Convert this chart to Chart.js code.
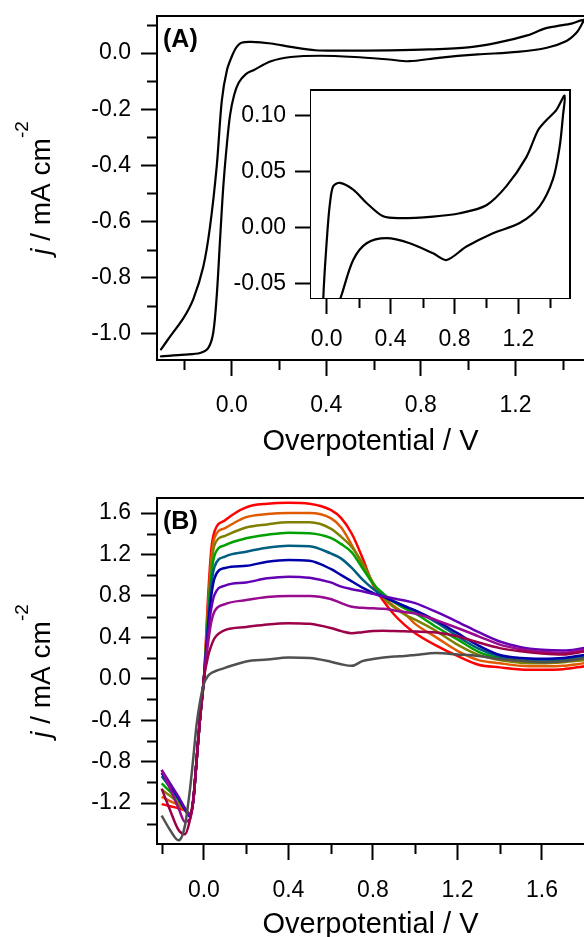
<!DOCTYPE html>
<html>
<head>
<meta charset="utf-8">
<title>Overpotential CV panels</title>
<script src="https://cdn.jsdelivr.net/npm/chart.js"></script>
<style>
    html, body { margin: 0; padding: 0; background: #fff; overflow: hidden; }
    body { width: 584px; height: 937px; position: relative; }
    canvas { position: absolute; }
    #chartA { left: 0; top: -14px; }
    #chartInset { left: 225px; top: 60px; }
    #chartB { left: 0; top: 470px; }
</style>
</head>
<body>
<canvas id="chartA" width="584" height="474"></canvas>
<canvas id="chartInset" width="355" height="290"></canvas>
<canvas id="chartB" width="584" height="473"></canvas>
<script>
// ---- panel A : cyclic voltammogram (path order) ----
const cvPotential = [-0.299, -0.261, -0.205, -0.162, -0.12, -0.092, -0.063, -0.042, -0.02, 0.005, 0.021, 0.041, 0.083,
    0.166, 0.25, 0.354, 0.458, 0.666, 0.833, 1.0, 1.125, 1.25, 1.323, 1.375, 1.437, 1.489,
    1.479, 1.458, 1.416, 1.333, 1.208, 1.041, 0.875, 0.75, 0.666, 0.52, 0.375, 0.25, 0.166, 0.094, 0.06, 0.03,
    0.01, -0.007, -0.021, -0.036, -0.049, -0.063, -0.078, -0.099, -0.134, -0.2, -0.299];
const cvCurrent = [-1.055, -1.01, -0.945, -0.875, -0.76, -0.62, -0.40, -0.17, -0.06, -0.003, 0.022, 0.037, 0.040,
    0.034, 0.022, 0.010, 0.0084, 0.0098, 0.0128, 0.020, 0.037, 0.063, 0.087, 0.096, 0.105, 0.118,
    0.100, 0.072, 0.043, 0.019, 0.004, -0.005, -0.017, -0.029, -0.023, -0.014, -0.0095, -0.014, -0.029, -0.060, -0.075, -0.105,
    -0.15, -0.221, -0.33, -0.48, -0.66, -0.86, -0.995, -1.05, -1.068, -1.074, -1.08];

// ---- panel B : linear sweeps ----
const sweepPotential = [-0.2, -0.16, -0.12, -0.09, -0.065, -0.05, -0.035, -0.02, 0.0, 0.02, 0.035, 0.05, 0.1, 0.2, 0.3, 0.4,
    0.5, 0.6, 0.65, 0.7, 0.75, 0.8, 0.85, 0.9, 0.95, 1.0, 1.1, 1.2, 1.3, 1.4, 1.5, 1.6, 1.7, 1.8];
const sweepGray = [-1.32, -1.46, -1.56, -1.42, -1.05, -0.76, -0.45, -0.24, -0.05, 0.03, 0.055, 0.07, 0.105, 0.167, 0.185, 0.205,
    0.2, 0.165, 0.14, 0.125, 0.17, 0.19, 0.205, 0.215, 0.22, 0.23, 0.248, 0.235, 0.22, 0.19, 0.175, 0.16, 0.17, 0.2];
const sweepCrimson = [-1.06, -1.27, -1.46, -1.50, -1.35, -1.15, -0.8, -0.42, 0.0, 0.22, 0.32, 0.39, 0.47, 0.50, 0.525, 0.537,
    0.53, 0.49, 0.46, 0.44, 0.45, 0.46, 0.463, 0.46, 0.458, 0.456, 0.447, 0.41, 0.35, 0.296, 0.265, 0.245, 0.235, 0.263];
const sweepMagenta = [-0.88, -1.06, -1.25, -1.38, -1.35, -1.17, -0.8, -0.42, 0.0, 0.35, 0.55, 0.65, 0.72, 0.76, 0.79, 0.80,
    0.80, 0.77, 0.73, 0.695, 0.685, 0.68, 0.675, 0.66, 0.645, 0.63, 0.565, 0.49, 0.41, 0.33, 0.285, 0.26, 0.25, 0.28];
const sweepViolet = [-0.88, -1.01, -1.14, -1.25, -1.32, -1.17, -0.8, -0.42, 0.0, 0.45, 0.68, 0.81, 0.9, 0.93, 0.97, 0.986,
    0.975, 0.93, 0.89, 0.865, 0.845, 0.82, 0.795, 0.775, 0.755, 0.73, 0.645, 0.55, 0.45, 0.36, 0.305, 0.28, 0.272, 0.296];
const sweepBlue = [-0.91, -1.03, -1.15, -1.26, -1.33, -1.17, -0.8, -0.42, 0.0, 0.5, 0.8, 0.97, 1.07, 1.09, 1.13, 1.147,
    1.14, 1.06, 1.0, 0.94, 0.88, 0.83, 0.79, 0.745, 0.70, 0.66, 0.56, 0.44, 0.32, 0.23, 0.2, 0.193, 0.2, 0.23];
const sweepTeal = [-0.94, -1.05, -1.16, -1.26, -1.32, -1.17, -0.8, -0.42, 0.0, 0.55, 0.9, 1.08, 1.18, 1.227, 1.265, 1.285,
    1.28, 1.21, 1.16, 1.07, 0.96, 0.87, 0.80, 0.75, 0.70, 0.655, 0.545, 0.41, 0.29, 0.215, 0.185, 0.18, 0.19, 0.22];
const sweepGreen = [-1.01, -1.09, -1.17, -1.25, -1.31, -1.17, -0.8, -0.42, 0.0, 0.6, 1.0, 1.19, 1.29, 1.356, 1.39, 1.41,
    1.405, 1.36, 1.30, 1.22, 1.07, 0.92, 0.82, 0.74, 0.68, 0.63, 0.50, 0.38, 0.26, 0.2, 0.175, 0.167, 0.175, 0.2];
const sweepOlive = [-1.07, -1.13, -1.2, -1.26, -1.31, -1.17, -0.8, -0.42, 0.0, 0.65, 1.08, 1.29, 1.38, 1.46, 1.49, 1.51,
    1.51, 1.45, 1.37, 1.27, 1.12, 0.93, 0.78, 0.69, 0.62, 0.57, 0.46, 0.33, 0.23, 0.18, 0.155, 0.15, 0.16, 0.18];
const sweepOrange = [-1.14, -1.18, -1.22, -1.27, -1.31, -1.17, -0.8, -0.42, 0.0, 0.7, 1.15, 1.36, 1.455, 1.56, 1.59, 1.60,
    1.6, 1.55, 1.46, 1.29, 1.1, 0.92, 0.79, 0.70, 0.63, 0.53, 0.40, 0.27, 0.18, 0.15, 0.125, 0.12, 0.125, 0.15];
const sweepRed = [-1.21, -1.23, -1.25, -1.27, -1.3, -1.17, -0.8, -0.42, 0.0, 0.8, 1.25, 1.42, 1.53, 1.655, 1.69, 1.70,
    1.69, 1.63, 1.55, 1.40, 1.17, 0.91, 0.75, 0.62, 0.52, 0.44, 0.32, 0.22, 0.135, 0.11, 0.09, 0.087, 0.093, 0.12];

const sweepSeries = [sweepGray, sweepCrimson, sweepMagenta, sweepViolet, sweepBlue, sweepTeal, sweepGreen, sweepOlive, sweepOrange, sweepRed];
const sweepColors = ['#505050', '#9b0048', '#980a8e', '#6400b4', '#0000a8', '#005f80', '#00a000', '#7f7f00', '#e05a00', '#ff0000'];

const fontFamily = '"Liberation Sans", Arial, Helvetica, sans-serif';
Chart.defaults.font.family = fontFamily;
Chart.defaults.color = '#000';

function labelEvery(step, digits) {
    return function (value) {
        const r = Math.round(value / step);
        return Math.abs(value - r * step) < 1e-6 ? (r * step).toFixed(digits) : '';
    };
}

function axis(o) {
    return {
        type: 'linear',
        min: o.min,
        max: o.max,
        afterFit: o.fit,
        ticks: {
            stepSize: o.step, includeBounds: false, autoSkip: false, maxRotation: 0, minRotation: 0,
            padding: o.pad, color: '#000', font: { size: 23 },
            callback: labelEvery(o.labelStep, o.digits)
        },
        grid: {
            drawOnChartArea: false, tickLength: 16, tickWidth: 2,
            tickColor: c => (c.tick && c.tick.label !== '') ? '#000' : 'rgba(0,0,0,0)'
        },
        border: { color: '#000', width: 2 },
        title: o.title
            ? { display: true, text: o.title, color: '#000', font: { size: 29 }, padding: { top: 0, bottom: 1 } }
            : { display: false }
    };
}

// frame top line, minor ticks, panel letter, y title
const decorPlugin = {
    id: 'decor',
    beforeDatasetsDraw(chart, args, opts) {
        if (!opts.whiteFill) return;
        const a = chart.chartArea;
        chart.ctx.save();
        chart.ctx.fillStyle = '#fff';
        chart.ctx.fillRect(a.left, a.top, a.right - a.left, a.bottom - a.top);
        chart.ctx.restore();
    },
    afterDraw(chart, args, opts) {
        const ctx = chart.ctx, a = chart.chartArea;
        ctx.save();
        ctx.strokeStyle = '#000';
        ctx.lineWidth = 2;
        ctx.beginPath();
        ctx.moveTo(a.left - 1, a.top);
        ctx.lineTo(a.right + (opts.closed ? 1 : 0), a.top);
        if (opts.closed) {
            ctx.moveTo(a.right, a.top);
            ctx.lineTo(a.right, a.bottom + 1);
        }
        ctx.stroke();

        Object.values(chart.scales).forEach(s => {
            s.ticks.forEach((t, i) => {
                if (t.label !== '') return;
                const p = Math.round(s.getPixelForTick(i)) + 0.5;
                ctx.beginPath();
                if (s.isHorizontal()) {
                    ctx.moveTo(p, a.bottom);
                    ctx.lineTo(p, a.bottom + 10);
                } else {
                    ctx.moveTo(a.left, p);
                    ctx.lineTo(a.left - 10, p);
                }
                ctx.stroke();
            });
        });

        ctx.fillStyle = '#000';
        ctx.textBaseline = 'alphabetic';
        ctx.textAlign = 'left';
        if (opts.letter) {
            ctx.font = 'bold 25px ' + fontFamily;
            ctx.fillText(opts.letter, a.left + 6, a.top + 31);
        }
        if (opts.yTitle) {
            const big = '28px ' + fontFamily;
            const small = '19px ' + fontFamily;
            ctx.translate(50, (a.top + a.bottom) / 2);
            ctx.rotate(-Math.PI / 2);
            ctx.font = 'italic ' + big;
            const w1 = ctx.measureText('j').width;
            ctx.font = big;
            const w2 = ctx.measureText(' / mA cm').width;
            ctx.font = small;
            const w3 = ctx.measureText('-2').width;
            let x0 = -(w1 + w2 + w3) / 2;
            ctx.font = 'italic ' + big;
            ctx.fillText('j', x0, 0);
            ctx.font = big;
            ctx.fillText(' / mA cm', x0 + w1, 0);
            ctx.font = small;
            ctx.fillText('-2', x0 + w1 + w2, -22);
        }
        ctx.restore();
    }
};

const baseOptions = {
    responsive: false,
    animation: false,
    events: [],
    plugins: { legend: { display: false }, tooltip: { enabled: false } }
};

const cvPoints = cvPotential.map((v, i) => ({ x: v, y: cvCurrent[i] }));
const cvDataset = {
    data: cvPoints, showLine: true, borderColor: '#000', borderWidth: 2.2, pointRadius: 0,
    tension: 0.3, borderJoinStyle: 'round', borderCapStyle: 'round', fill: false
};

// panel A
new Chart(document.getElementById('chartA'), {
    type: 'scatter',
    data: { datasets: [Object.assign({}, cvDataset)] },
    plugins: [decorPlugin],
    options: Object.assign({}, baseOptions, {
        layout: { padding: { top: 30, left: 0, right: 0, bottom: 0 } },
        plugins: Object.assign({}, baseOptions.plugins, { decor: { letter: '(A)', yTitle: true } }),
        scales: {
            x: axis({ min: -0.316, max: 1.49, step: 0.2, labelStep: 0.4, digits: 1, pad: 16, title: 'Overpotential / V', fit: s => { s.height = 100; } }),
            y: axis({ min: -1.093, max: 0.132, step: 0.1, labelStep: 0.2, digits: 1, pad: 10, fit: s => { s.width = 157; } })
        }
    })
});

// inset of panel A
new Chart(document.getElementById('chartInset'), {
    type: 'scatter',
    data: { datasets: [Object.assign({}, cvDataset)] },
    plugins: [decorPlugin],
    options: Object.assign({}, baseOptions, {
        layout: { padding: { top: 30, left: 0, right: 10, bottom: 0 } },
        plugins: Object.assign({}, baseOptions.plugins, { decor: { closed: true, whiteFill: true } }),
        scales: {
            x: axis({ min: -0.098, max: 1.523, step: 0.2, labelStep: 0.4, digits: 1, pad: 12, fit: s => { s.height = 52; } }),
            y: axis({ min: -0.063, max: 0.123, step: 0.05, labelStep: 0.05, digits: 2, pad: 9, fit: s => { s.width = 86; } })
        }
    })
});

// panel B
new Chart(document.getElementById('chartB'), {
    type: 'scatter',
    data: {
        datasets: sweepSeries.map((series, k) => ({
            data: sweepPotential.map((v, i) => ({ x: v, y: series[i] })),
            showLine: true, borderColor: sweepColors[k], borderWidth: 2.5, pointRadius: 0,
            cubicInterpolationMode: 'monotone', borderJoinStyle: 'round', fill: false
        }))
    },
    plugins: [decorPlugin],
    options: Object.assign({}, baseOptions, {
        layout: { padding: { top: 28, left: 0, right: 0, bottom: 0 } },
        plugins: Object.assign({}, baseOptions.plugins, { decor: { letter: '(B)', yTitle: true } }),
        scales: {
            x: axis({ min: -0.222, max: 1.799, step: 0.2, labelStep: 0.4, digits: 1, pad: 17, title: 'Overpotential / V', fit: s => { s.height = 99; } }),
            y: axis({ min: -1.595, max: 1.745, step: 0.2, labelStep: 0.4, digits: 1, pad: 10, fit: s => { s.width = 157; } })
        }
    })
});
</script>
</body>
</html>
